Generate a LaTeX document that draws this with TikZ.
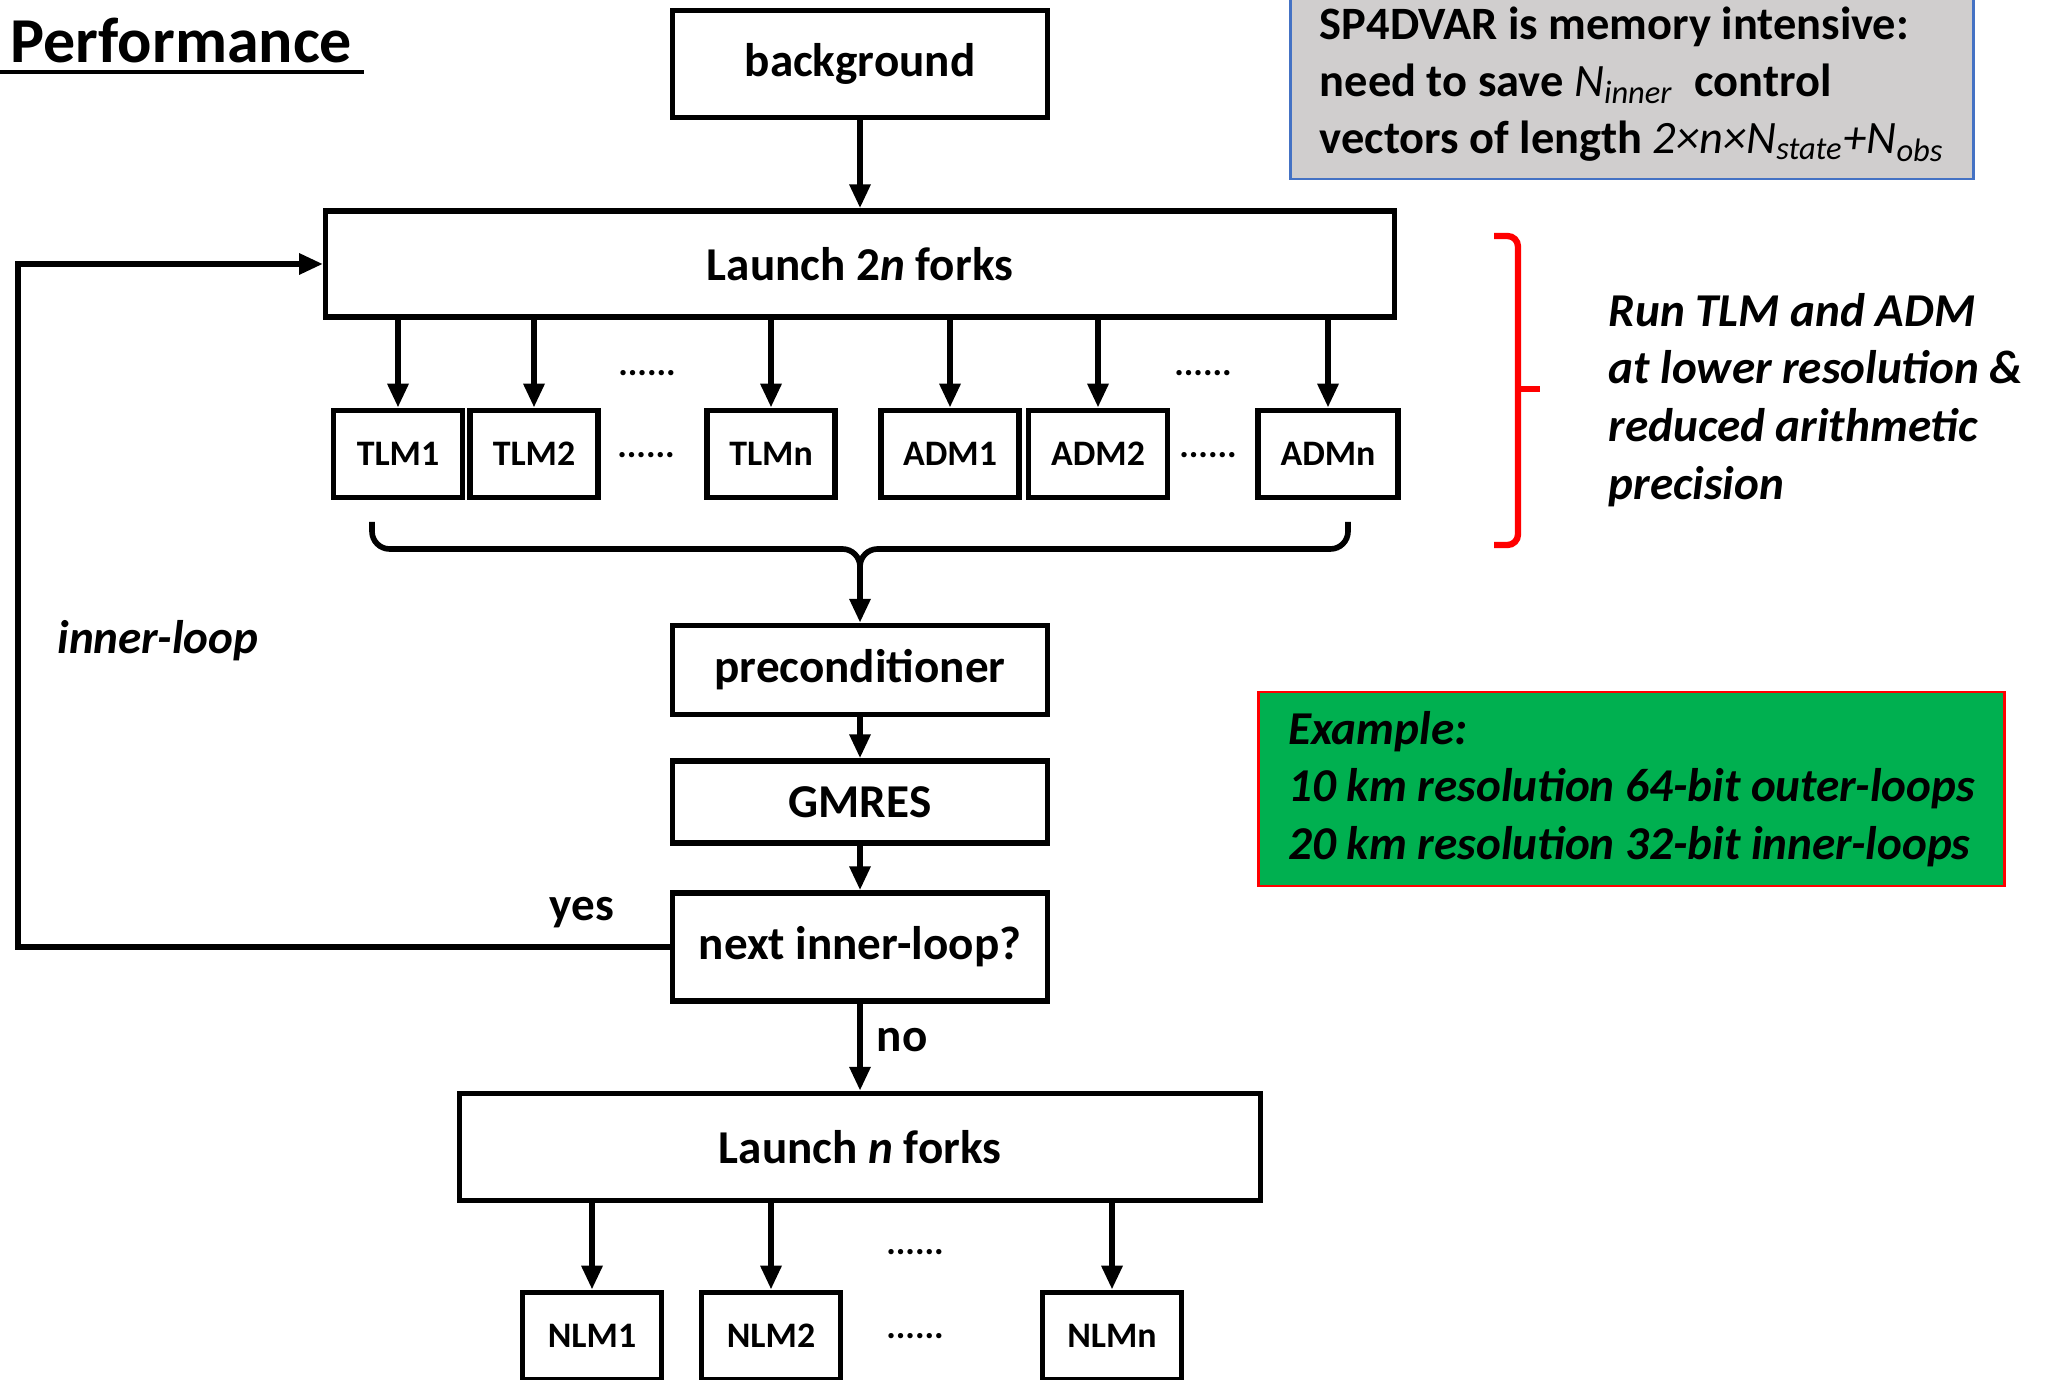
\documentclass[tikz,border=0pt]{standalone}
\usepackage{fontspec}
\setmainfont{Carlito}
\usetikzlibrary{positioning, arrows.meta, calc}
\definecolor{memgray}{RGB}{208,206,206}
\definecolor{memblue}{RGB}{68,114,196}
\definecolor{exgreen}{RGB}{0,176,80}

\begin{document}
\begin{tikzpicture}[
  x=0.01cm, y=-0.01cm,
  >={Triangle[length=2.4mm, width=2mm]},
  every node/.style={font=\bfseries\fontsize{13.4}{16.4}\selectfont},
  box/.style ={draw, line width=1.5pt, minimum width=3.75cm, minimum height=1.07cm, inner sep=2pt},
  fork/.style={draw, line width=1.6pt, minimum width=1.3cm, minimum height=0.87cm, inner sep=1pt,
               font=\bfseries\fontsize{10.2}{12}\selectfont},
  dots/.style={anchor=base, inner sep=0pt, font=\bfseries\fontsize{10.2}{12}\selectfont},
  lab/.style ={font=\bfseries\itshape\fontsize{13.4}{16.4}\selectfont},
  arr/.style ={->, line width=1.8pt},
  brk/.style ={line width=1.6pt, rounded corners=5pt},
  redbrk/.style={line width=1.8pt, red, rounded corners=3pt},
]
  \useasboundingbox (0,0) rectangle (2046,1380);

  % title
  \node[anchor=base west, inner sep=0pt, font=\bfseries\fontsize{18.2}{21}\selectfont] (title) at (10,63) {Performance};
  \draw[line width=1.3pt] (0,72) -- (364,72);

  % main column
  \node[box] (bg) at (860,64) {background};
  \node[box, minimum width=10.68cm, minimum height=1.06cm] (launch) at (860,264) {Launch 2\textit{n} forks};
  \foreach \name/\lab/\x/\w in {tlm1/TLM1/398/1.29, tlm2/TLM2/534/1.28, tlmn/TLMn/771/1.28,
                                adm1/ADM1/950/1.38, adm2/ADM2/1098/1.39, admn/ADMn/1328/1.40}
    \node[fork, minimum width=\w cm] (\name) at (\x,454) {\lab};
  \foreach \n in {tlm1,tlm2,tlmn,adm1,adm2,admn}\draw[arr] (launch.south -| \n) -- (\n);
  \node[dots] (da) at (647,376) {......};
  \node[dots] (db) at (1203,376) {......};
  \node[dots] (dc) at (646,458) {......};
  \node[dots] (dd) at (1208,458) {......};

  % gather bracket
  \coordinate (mid) at (860,549);
  \coordinate (cusp) at (860,578);
  \draw[brk] (372,522) |- (mid) -- (cusp);
  \draw[brk] (1348,522) |- (mid) -- (cusp);

  \node[box, minimum height=0.89cm] (pre) at (860,670) {preconditioner};
  \node[box, minimum height=0.82cm] (gmres) at (860,802) {GMRES};
  \node[box, minimum height=1.08cm] (next) at (860,947) {next inner-loop?};
  \node[box, minimum width=8.01cm, minimum height=1.07cm] (launchn) at (860,1147) {Launch \textit{n} forks};
  \draw[arr] (cusp) -- (pre);
  \foreach \a/\b in {bg/launch, pre/gmres, gmres/next, next/launchn}\draw[arr] (\a) -- (\b);

  % inner loop back
  \coordinate (loopx) at (18,0);
  \draw[arr] (next.west) -- (next.west -| loopx) |- (launch.west);
  \node (yes) at (582,913) {yes};
  \node (no) at (902,1040) {no};
  \node[lab] (il) at (158,641) {inner-loop};

  % outer forks
  \foreach \name/\lab/\x in {nlm1/NLM1/592, nlm2/NLM2/771, nlmn/NLMn/1112}
    \node[fork, minimum width=1.39cm] (\name) at (\x,1336) {\lab};
  \foreach \n in {nlm1,nlm2,nlmn}\draw[arr] (launchn.south -| \n) -- (\n);
  \node[dots] (de) at (915,1254) {......};
  \node[dots] (df) at (915,1338) {......};

  % notes
  \node[draw=memblue, fill=memgray, line width=0.8pt, minimum width=6.82cm, minimum height=1.9cm,
        align=left, font=\bfseries\fontsize{13.2}{16.2}\selectfont] (mem) at (1632,84)
    {SP4DVAR is memory intensive:\\
     need to save \textit{\mdseries N\textsubscript{inner}}\ \ control\\
     vectors of length \textit{\mdseries 2×n×N\textsubscript{state}+N\textsubscript{obs}}};

  \draw[redbrk] (1494,236) -| (1518,545) -- (1494,545);
  \draw[redbrk] (1518,389) -- (1540,389);
  \node[lab, align=left, anchor=west, inner sep=0pt] (run) at (1608,400)
    {Run TLM and ADM\\at lower resolution \&\\reduced arithmetic\\precision};

  \node[draw=red, fill=exgreen, line width=0.8pt, minimum width=7.45cm, minimum height=1.94cm,
        align=left, lab] (ex) at (1631.5,789)
    {Example:\\10 km resolution 64-bit outer-loops\\20 km resolution 32-bit inner-loops};
\end{tikzpicture}
\end{document}
